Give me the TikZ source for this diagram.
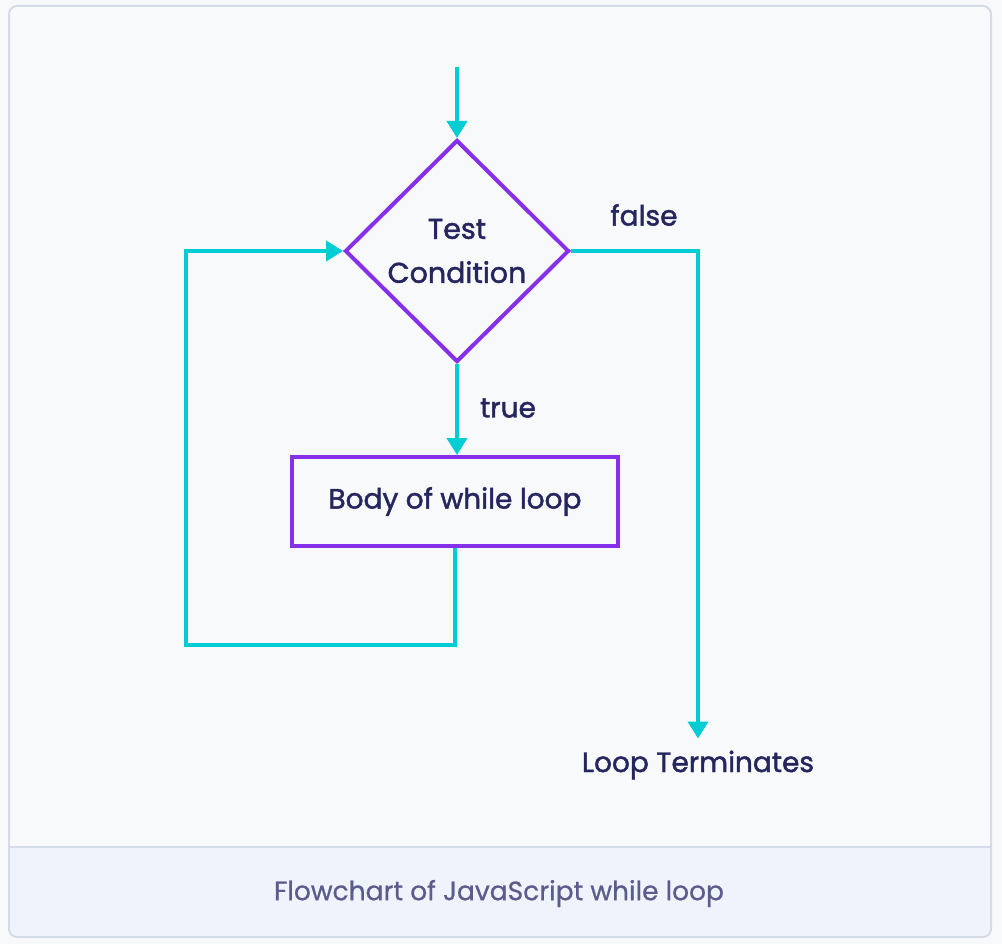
\documentclass[tikz,border=0pt]{standalone}
\usepackage{fontspec}
\setmainfont{Poppins}
\newfontfamily\medfont[FakeBold=1.6]{Poppins}
\newfontfamily\capfont[FakeBold=0.8]{Poppins}
\usetikzlibrary{shapes.geometric,arrows.meta}
\definecolor{bgmain}{HTML}{F8F9FB}
\definecolor{bgcap}{HTML}{EFF4FC}
\definecolor{framec}{HTML}{D5DBE8}
\definecolor{flowc}{HTML}{00CDD3}
\definecolor{edgec}{HTML}{8630EA}
\definecolor{txtc}{HTML}{25265E}
\definecolor{captxt}{HTML}{5C5C8C}
\tikzset{
  flowline/.style={draw=flowc, line width=4pt, line join=miter,
    -{Triangle[length=17pt,width=20pt]}},
  diam/.style={diamond, draw=edgec, line width=4pt, inner sep=0pt,
    minimum width=224pt, minimum height=222pt, align=center,
    text=txtc, font=\medfont\fontsize{28.5}{44}\selectfont},
  stepbox/.style={rectangle, draw=edgec, line width=4pt, inner sep=0pt,
    minimum width=326pt, minimum height=89pt,
    text=txtc, font=\medfont\fontsize{28}{32}\selectfont},
  lbl/.style={text=txtc, font=\medfont\fontsize{28}{32}\selectfont, inner sep=0pt},
  caption/.style={text=captxt, font=\capfont\fontsize{26.5}{30}\selectfont, inner sep=0pt}
}
\begin{document}
\begin{tikzpicture}[x=1pt,y=-1pt]
\useasboundingbox (0,0) rectangle (1002,944);
\fill[bgmain] (0,0) rectangle (1002,944);
\fill[bgcap] (9,847) -- (991,847) [rounded corners=8pt] -- (991,937) -- (9,937) [sharp corners] -- cycle;
\draw[framec, line width=2pt] (9,847) -- (991,847);
\draw[framec, line width=2pt, rounded corners=8pt] (9,6) rectangle (991,937);

\node[diam] (cond) at (457,251) {Test\\Condition};
\node[stepbox] (body) at (455,501.5) {\raisebox{-2.5pt}{Body of while loop}};
\node[lbl] (term) at (698,765) {Loop Terminates};
\node[lbl] (lfalse) at (644,215) {false};
\node[lbl] (ltrue) at (508,408) {true};
\node[caption] (cap) at (499,893.5) {Flowchart of JavaScript while loop};

\coordinate (start) at (457,67);
\coordinate (loopA) at (455,645);
\coordinate (loopB) at (186,645);
\coordinate (loopC) at (186,251);

\draw[flowline] (start) -- (cond.north);
\draw[flowline] (cond.south) -- (cond.south |- body.north);
\draw[flowline, shorten >=12pt] (cond.east) -| (term.north);
\draw[flowline] (body.south) -- (loopA) -- (loopB) -- (loopC) -- (cond.west);
\end{tikzpicture}
\end{document}
